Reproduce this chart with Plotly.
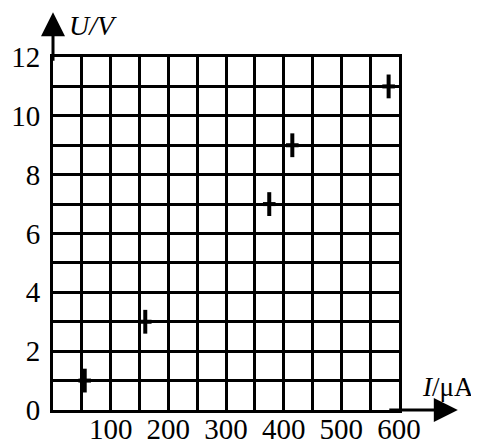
import plotly.graph_objects as go

# data
current_uA = [55, 160, 375, 415, 582]
voltage_V = [1, 3, 7, 9, 11]

x_tick_vals = [100, 200, 300, 400, 500, 600]
x_tick_text = ["100", "200", "300", "400", "500", "600"]
y_tick_vals = [0, 2, 4, 6, 8, 10, 12]
y_tick_text = ["0", "2", "4", "6", "8", "10", "12"]

FONT = "Liberation Serif"

fig = go.Figure()
fig.add_trace(go.Scatter(
    x=current_uA, y=voltage_V, mode="markers",
    marker=dict(symbol="line-ns", size=17, line=dict(width=4, color="black")),
    hoverinfo="skip", showlegend=False))
fig.add_trace(go.Scatter(
    x=current_uA, y=voltage_V, mode="markers",
    marker=dict(symbol="line-ew", size=9, line=dict(width=4, color="black")),
    hoverinfo="skip", showlegend=False))

# the page body has an 8px margin, so the figure is 8px smaller than the window
fig.update_layout(
    width=471, height=438,
    margin=dict(l=45, r=80, t=49, b=36, autoexpand=False),
    paper_bgcolor="white", plot_bgcolor="white",
    font=dict(family=FONT, size=29, color="black"),
    showlegend=False,
    xaxis=dict(
        range=[0, 600], tickvals=x_tick_vals, ticktext=x_tick_text,
        showgrid=True, gridcolor="black", gridwidth=3,
        minor=dict(dtick=50, tick0=0, showgrid=True, gridcolor="black", gridwidth=3),
        showline=True, mirror=True, linecolor="black", linewidth=3,
        zeroline=False, ticks="", ticklabelstandoff=-9,
        automargin=False, fixedrange=True,
    ),
    yaxis=dict(
        range=[0, 12], tickvals=y_tick_vals, ticktext=y_tick_text,
        showgrid=True, gridcolor="black", gridwidth=3,
        minor=dict(dtick=1, tick0=0, showgrid=True, gridcolor="black", gridwidth=3),
        showline=True, mirror=True, linecolor="black", linewidth=3,
        zeroline=False, ticks="", ticklabelstandoff=4,
        automargin=False, fixedrange=True,
    ),
)

# axis arrows
fig.add_annotation(x=0, y=1.127, xref="paper", yref="paper", ax=0, ay=50, axref="pixel", ayref="pixel",
                   text="", showarrow=True, arrowhead=2, arrowsize=1.6, arrowwidth=3, arrowcolor="black")
fig.add_annotation(x=1.17, y=0, xref="paper", yref="paper", ax=-70, ay=0, axref="pixel", ayref="pixel",
                   text="", showarrow=True, arrowhead=2, arrowsize=1.6, arrowwidth=3, arrowcolor="black")

# axis titles
fig.add_annotation(x=0.04, y=1.088, xref="paper", yref="paper", xanchor="left", yanchor="middle",
                   text="<i>U/V</i>", showarrow=False, font=dict(family=FONT, size=28))
fig.add_annotation(x=1.06, y=0.065, xref="paper", yref="paper", xanchor="left", yanchor="middle",
                   text="<i>I</i>/μA", showarrow=False, font=dict(family=FONT, size=27))

fig.write_html("out.html")
